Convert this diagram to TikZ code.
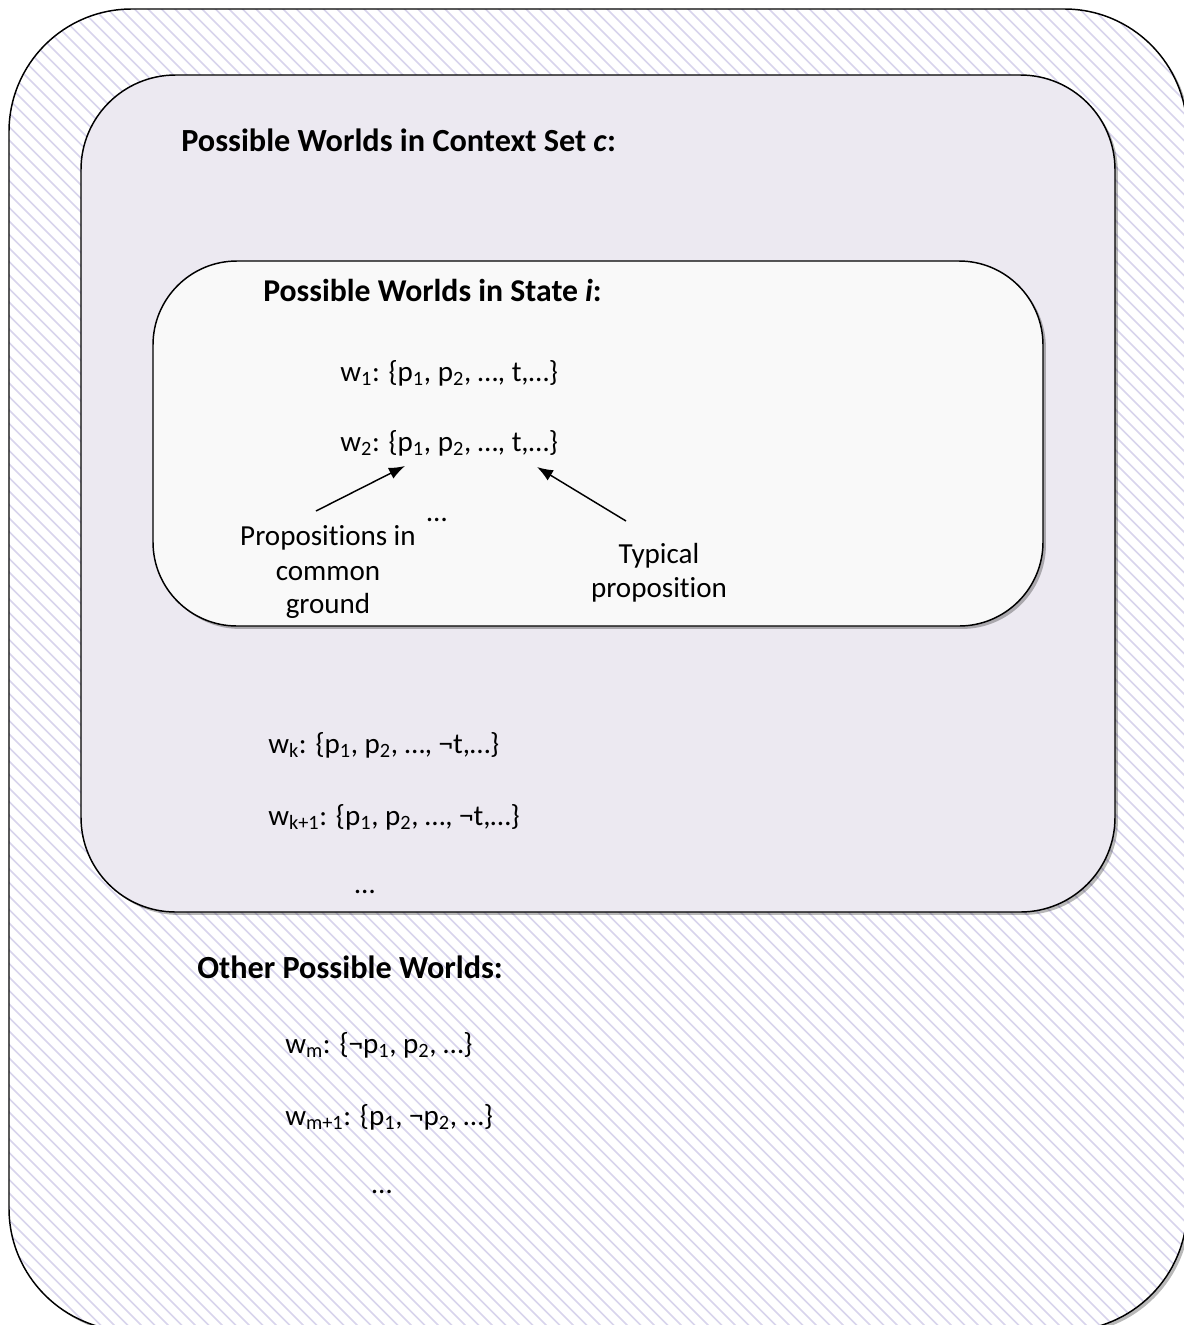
\documentclass[tikz,border=0pt]{standalone}
\usepackage{fontspec}
\setmainfont{Carlito}[Ligatures={NoCommon}]
\usetikzlibrary{arrows.meta,shadows}
\definecolor{midfill}{HTML}{ECE9F1}
\definecolor{innfill}{HTML}{F9F9F9}
\definecolor{hatchcol}{HTML}{D8D4EC}
\begin{document}
\begin{tikzpicture}[x=0.75pt,y=-0.75pt,
  box/.style={line width=1.1pt, draw=black},
  shd/.style={drop shadow={shadow xshift=2.2pt,shadow yshift=-2.2pt,opacity=0.28,fill=black}},
  txt/.style={inner sep=0pt, anchor=base west, font=\fontsize{21.8}{26}\selectfont},
  ctxt/.style={inner sep=0pt, anchor=base, font=\fontsize{21.8}{26}\selectfont},
  ttl/.style={inner sep=0pt, anchor=base west, font=\fontsize{24.2}{29}\selectfont\bfseries},
  arr/.style={line width=1.1pt, -{Latex[length=12pt,width=9pt]}}
]
\useasboundingbox (0,0) rectangle (1184,1325);
% outer box
\fill[white, shd, rounded corners=92pt] (9,9) rectangle (1187,1331);
\begin{scope}
  \clip[rounded corners=92pt] (9,9) rectangle (1187,1331);
  \foreach \x in {-1400,-1386.5,...,1200}
    \draw[hatchcol, line width=1.1pt] (\x,0) -- ++(1400,1400);
\end{scope}
\draw[box, rounded corners=92pt] (9,9) rectangle (1187,1331);
% context set box
\filldraw[box, fill=midfill, shd, rounded corners=71pt] (81,75) rectangle (1115,912);
% state box
\filldraw[box, fill=innfill, shd, rounded corners=63pt] (153,261) rectangle (1043,626);

% texts
\node[ttl] (tctx) at (181,151) {Possible Worlds in Context Set \textit{c}:};
\node[ttl, font=\fontsize{23.8}{29}\selectfont\bfseries] (tst) at (263,301) {Possible Worlds in State \textit{i}:};
\node[txt] (w1) at (340,381) {w\textsubscript{1}: \{p\textsubscript{1}, p\textsubscript{2}, …, t,…\}};
\node[txt] (w2) at (340,451) {w\textsubscript{2}: \{p\textsubscript{1}, p\textsubscript{2}, …, t,…\}};
\node[ctxt] (d1) at (437,521) {…};
\node[ctxt] (pc1) at (328,545) {Propositions in};
\node[ctxt] (pc2) at (328,580) {common};
\node[ctxt] (pc3) at (328,613) {ground};
\node[ctxt] (tp1) at (659,563) {Typical};
\node[ctxt] (tp2) at (659,597) {proposition};
\node[txt] (wk) at (268,753) {w\textsubscript{k}: \{p\textsubscript{1}, p\textsubscript{2}, …, ¬t,…\}};
\node[txt] (wk1) at (268,825) {w\textsubscript{k+1}: \{p\textsubscript{1}, p\textsubscript{2}, …, ¬t,…\}};
\node[ctxt] (d2) at (365,893) {…};
\node[ttl] (toth) at (197,978) {Other Possible Worlds:};
\node[txt] (wm) at (285,1053) {w\textsubscript{m}: \{¬p\textsubscript{1}, p\textsubscript{2}, …\}};
\node[txt] (wm1) at (285,1125) {w\textsubscript{m+1}: \{p\textsubscript{1}, ¬p\textsubscript{2}, …\}};
\node[ctxt] (d3) at (382,1193) {…};

% arrows
\coordinate (a1s) at (316,511);
\coordinate (a1e) at (405,466);
\coordinate (a2s) at (626,521);
\coordinate (a2e) at (537,467);
\draw[arr] (a1s) -- (a1e);
\draw[arr] (a2s) -- (a2e);
\end{tikzpicture}
\end{document}
